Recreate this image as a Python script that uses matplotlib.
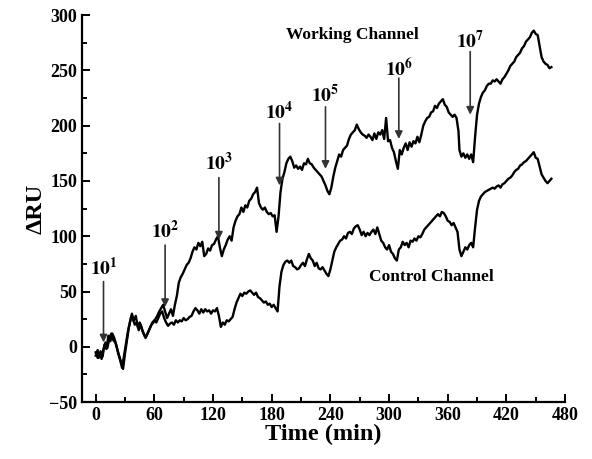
import matplotlib
matplotlib.use("Agg")
import matplotlib.pyplot as plt
from matplotlib.ticker import MultipleLocator

# Working channel (time in min, delta RU)
t_work = [0, 2, 3, 5, 7, 9, 11, 13, 15, 17, 19, 21, 23, 25, 27, 29, 31, 33, 35, 37,
          39, 41, 43, 45, 47, 49, 51, 53, 55, 57, 59, 61, 63, 65, 67, 69, 71, 73, 75, 77,
          79, 81, 83, 85, 87, 89, 91, 93, 95, 97, 99, 101, 103, 105, 107, 109, 111, 113, 115, 117,
          119, 121, 123, 125, 127, 129, 131, 133, 135, 137, 139, 141, 143, 145, 147, 149, 151, 153, 155, 157,
          159, 161, 163, 165, 167, 169, 171, 173, 175, 177, 179, 181, 183, 185, 187, 189, 191, 193, 195, 197,
          199, 201, 203, 205, 207, 209, 211, 213, 215, 217, 219, 221, 223, 225, 227, 229, 231, 233, 235, 237,
          239, 241, 243, 245, 247, 249, 251, 253, 255, 257, 259, 261, 263, 265, 267, 269, 271, 273, 275, 277,
          279, 281, 283, 285, 287, 289, 291, 293, 295, 297, 299, 301, 303, 305, 307, 309, 311, 313, 315, 317,
          319, 321, 323, 325, 327, 329, 331, 333, 335, 337, 339, 341, 343, 345, 347, 349, 351, 353, 355, 357,
          359, 361, 363, 365, 367, 369, 371, 372, 374, 376, 378, 380, 382, 384, 386, 388, 390, 392, 394, 396,
          398, 400, 402, 404, 406, 408, 410, 412, 414, 416, 418, 420, 422, 424, 426, 428, 430, 432, 434, 436,
          438, 440, 442, 444, 446, 448, 450, 452, 454, 456, 458, 460, 462, 464, 466]
ru_work = [-8, -3, -10, -4, -9, 2, -2, 10, 5, 12, 8, 2, -6, -12, -19, -8, 3, 14, 22, 30,
           24, 28, 18, 22, 17, 12, 8, 12, 16, 20, 22, 25, 28, 32, 35, 38, 32, 26, 30, 34,
           28, 38, 46, 58, 63, 66, 70, 74, 76, 80, 86, 90, 88, 94, 91, 95, 82, 84, 89, 87,
           92, 93, 97, 100, 90, 82, 88, 92, 97, 100, 96, 108, 114, 118, 120, 126, 122, 128, 126, 132,
           134, 138, 140, 144, 130, 126, 124, 126, 122, 120, 121, 118, 119, 104, 118, 140, 152, 158, 166, 170,
           172, 168, 162, 164, 161, 163, 160, 166, 165, 170, 166, 165, 162, 160, 158, 156, 154, 150, 146, 141,
           138, 144, 154, 162, 168, 174, 172, 178, 180, 182, 188, 192, 194, 196, 201, 197, 194, 192, 191, 189,
           192, 190, 187, 193, 188, 194, 192, 196, 188, 207, 186, 187, 180, 176, 168, 161, 178, 174, 180, 184,
           178, 185, 181, 186, 184, 190, 185, 192, 200, 204, 207, 208, 212, 213, 218, 216, 220, 222, 224, 219,
           217, 212, 210, 208, 210, 207, 195, 178, 172, 175, 171, 174, 170, 174, 167, 190, 210, 220, 226, 230,
           232, 236, 238, 238, 241, 240, 242, 240, 238, 242, 244, 247, 250, 254, 256, 258, 262, 264, 266, 270,
           272, 276, 278, 280, 284, 286, 283, 282, 272, 262, 258, 256, 255, 252, 253]

# Control channel
t_ctrl = list(range(0, 468, 2))
ru_ctrl = [-5, -10, -6, -11, -2, 4, -1, 8, 12, 6, 4, -2, -8, -14, -20, -6, 6, 18, 26, 25,
           20, 22, 15, 20, 14, 10, 10, 14, 18, 22, 24, 22, 26, 30, 32, 26, 22, 19, 21, 22,
           20, 24, 22, 24, 23, 26, 24, 25, 27, 28, 32, 35, 33, 30, 34, 31, 34, 32, 33, 30,
           33, 32, 35, 28, 18, 22, 20, 24, 23, 25, 27, 34, 40, 44, 48, 46, 49, 48, 50, 51,
           49, 47, 49, 45, 44, 42, 40, 41, 38, 39, 36, 38, 35, 32, 55, 68, 74, 77, 78, 76,
           78, 73, 72, 70, 71, 74, 76, 73, 79, 84, 80, 78, 73, 76, 71, 70, 72, 69, 66, 64,
           70, 78, 86, 90, 93, 96, 97, 100, 98, 103, 104, 102, 107, 109, 110, 106, 101, 104, 100, 103,
           101, 104, 106, 102, 108, 102, 96, 94, 90, 88, 92, 86, 84, 80, 78, 88, 90, 95, 92, 94,
           90, 96, 95, 98, 96, 100, 99, 102, 106, 108, 110, 112, 114, 116, 118, 120, 118, 122, 121, 118,
           114, 113, 110, 112, 108, 104, 88, 82, 86, 90, 88, 92, 94, 90, 108, 124, 132, 136, 138, 140,
           141, 142, 143, 144, 143, 145, 146, 144, 147, 148, 150, 152, 153, 155, 158, 160, 161, 164, 165, 167,
           168, 170, 172, 174, 176, 171, 170, 163, 156, 153, 150, 148, 150, 152]

# Injection labels and arrow positions (time, arrow top, arrow tip, label y)
inj_labels = ["10^{1}", "10^{2}", "10^{3}", "10^{4}", "10^{5}", "10^{6}", "10^{7}"]
inj_time = [8, 71, 126, 188, 235, 310, 383]
inj_top = [59, 92, 153, 202, 217, 243, 267]
inj_tip = [4, 36, 97, 146, 161, 188, 210]
inj_text_y = [71, 105, 166, 212, 228, 252, 277]

plt.rcParams['font.family'] = ['Liberation Serif', 'DejaVu Serif']
plt.rcParams['font.weight'] = 'bold'
plt.rcParams['mathtext.fontset'] = 'stix'

fig = plt.figure(figsize=(5.92, 4.59), dpi=100)
ax = fig.add_axes([0.1385, 0.124, 0.816, 0.843])

ax.plot(t_work, ru_work, color='black', lw=1.7)
ax.plot(t_ctrl, ru_ctrl, color='black', lw=1.7)

for lab, t, y0, y1, ty in zip(inj_labels, inj_time, inj_top, inj_tip, inj_text_y):
    ax.annotate('', xy=(t, y1), xytext=(t, y0),
                arrowprops=dict(arrowstyle='-|>', color='#333333', lw=1.2,
                                mutation_scale=11, shrinkA=0, shrinkB=0))
    ax.text(t, ty, r'$\mathbf{' + lab + '}$', ha='center', va='center', fontsize=14)

ax.text(262, 282, 'Working Channel', ha='center', va='center', fontsize=12.5, fontweight='bold')
ax.text(343, 63, 'Control Channel', ha='center', va='center', fontsize=12.5, fontweight='bold')

ax.set_xlim(-14, 480)
ax.set_ylim(-50, 300)
ax.xaxis.set_major_locator(MultipleLocator(60))
ax.xaxis.set_minor_locator(MultipleLocator(30))
ax.yaxis.set_major_locator(MultipleLocator(50))
ax.yaxis.set_minor_locator(MultipleLocator(25))
ax.set_xticks(range(0, 481, 60))

ax.spines['top'].set_visible(False)
ax.spines['right'].set_visible(False)
for s in ['left', 'bottom']:
    ax.spines[s].set_linewidth(1.6)

ax.tick_params(which='both', direction='in', width=1.4, labelsize=13)
ax.tick_params(which='major', length=6)
ax.tick_params(which='minor', length=3.5)
for lbl in ax.get_xticklabels() + ax.get_yticklabels():
    lbl.set_fontweight('bold')

ax.set_xlabel('Time (min)', fontsize=17.5, fontweight='bold', labelpad=0)
ax.set_ylabel('ΔRU', fontsize=17.5, fontweight='bold', labelpad=2)

fig.savefig('out.png', dpi=100)
